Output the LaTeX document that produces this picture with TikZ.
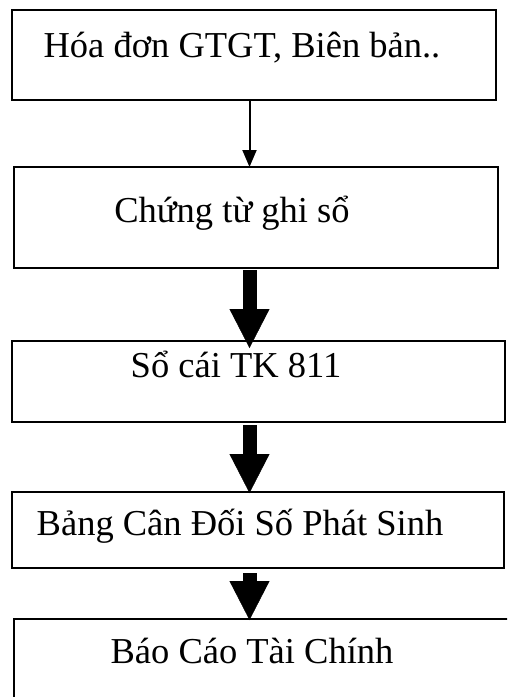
\documentclass[tikz,border=0pt]{standalone}
\usepackage{fontspec}
\setmainfont{Liberation Serif}
\usetikzlibrary{arrows.meta,positioning}
\tikzset{
  >=Latex,
  chart/.style={x=1pt, y=1pt, line width=2pt},
  box/.style={
    rectangle, draw, inner sep=0pt, outer sep=0pt, minimum width=484pt
  },
  boxtext/.style={anchor=base, inner sep=0pt, font=\fontsize{36.5}{40}\selectfont},
  thinarrow/.style={line width=2pt, -{Triangle[length=17pt, width=14pt]}},
  fatarrow/.style={line width=14pt, -{Triangle[length=39pt, width=40pt, line width=0.4pt]}}
}

\begin{document}
\begin{tikzpicture}[chart]
\clip (0,0) rectangle (507,-697);
\coordinate (axis) at (249.5,0);

% 1 : Hoa don
\node[box, minimum height=90pt] (hoadon) at (254,-55) {};
\node[boxtext] (hoadon-t) at ([shift={(-12,-47)}]hoadon.north) {Hóa đơn GTGT, Biên bản..};

% 2 : Chung tu ghi so
\node[box, minimum height=101pt, below=67pt of hoadon, xshift=2pt] (ctgs) {};
\node[boxtext] (ctgs-t) at ([shift={(-24,-55)}]ctgs.north) {Chứng từ ghi sổ};
\draw[thinarrow] (hoadon.south -| axis) -- (ctgs.north -| axis);

% 3 : So cai
\node[box, minimum height=81pt, minimum width=493pt, below=73pt of ctgs, xshift=2.5pt] (socai) {};
\node[boxtext] (socai-t) at ([shift={(-22.5,-36)}]socai.north) {Sổ cái TK 811};
\draw[fatarrow, shorten <=2pt, shorten >=-7pt] (ctgs.south -| axis) -- (socai.north -| axis);

% 4 : Bang can doi
\node[box, minimum height=76pt, minimum width=492pt, below=70pt of socai, xshift=-0.5pt] (bcdps) {};
\node[boxtext] (bcdps-t) at ([shift={(-18,-43)}]bcdps.north) {Bảng Cân Đối Số Phát Sinh};
\draw[fatarrow, shorten <=3pt, shorten >=-1pt] (socai.south -| axis) -- (bcdps.north -| axis);

% 5 : Bao cao tai chinh
\node[box, minimum height=100pt, minimum width=496pt, below=51pt of bcdps, xshift=4pt] (bctc) {};
\node[boxtext] (bctc-t) at ([shift={(-10,-44)}]bctc.north) {Báo Cáo Tài Chính};
\draw[fatarrow, shorten <=5pt, shorten >=-1pt] (bcdps.south -| axis) -- (bctc.north -| axis);

\end{tikzpicture}
\end{document}
